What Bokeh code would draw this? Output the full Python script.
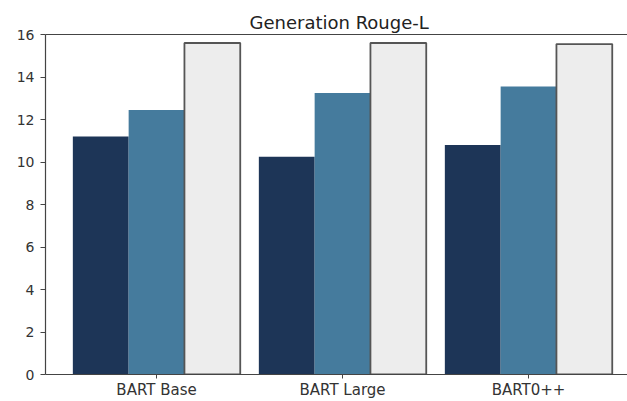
from bokeh.plotting import figure
from bokeh.models import ColumnDataSource, Range1d, FixedTicker, LinearAxis
from bokeh.transform import dodge
from bokeh.embed import file_html
from bokeh.resources import INLINE

models = ["BART Base", "BART Large", "BART0++"]
series_a = [11.2, 10.25, 10.8]
series_b = [12.45, 13.25, 13.55]
series_c = [15.6, 15.6, 15.55]
y_ticks = [0, 2, 4, 6, 8, 10, 12, 14, 16]

positions = list(range(len(models)))
src = ColumnDataSource(dict(pos=positions, a=series_a, b=series_b, c=series_c))

FONT = "DejaVu Sans"
p = figure(width=627, height=401, output_backend="svg", toolbar_location=None,
           x_range=Range1d(-0.597, 2.532), y_range=Range1d(0, 16),
           min_border_left=45, min_border_right=0, min_border_top=34, min_border_bottom=27,
           title="Generation Rouge-L")
p.outline_line_color = None
p.xgrid.visible = False
p.ygrid.visible = False
p.background_fill_color = "white"

p.title.align = "left"
p.title.offset = 204
p.title.text_font = FONT
p.title.text_font_size = "18px"
p.title.text_font_style = "normal"
p.title.text_color = "#222222"
p.title.standoff = 4

w = 0.3
p.vbar(x=dodge("pos", -w, range=None), top="a", width=w, source=src,
       fill_color="#1d3557", line_color=None)
p.vbar(x=dodge("pos", 0.0, range=None), top="b", width=w, source=src,
       fill_color="#457b9d", line_color=None)
p.vbar(x=dodge("pos", w, range=None), top="c", width=w, source=src,
       fill_color="#ededed", line_color="#555555", line_width=1.8)

for ax in (p.xaxis[0], p.yaxis[0]):
    ax.axis_line_color = "#444444"
    ax.axis_line_width = 1.2
    ax.major_tick_line_color = "#444444"
    ax.major_tick_out = 5
    ax.major_tick_in = 0
    ax.minor_tick_line_color = None
    ax.major_label_text_font = FONT
    ax.major_label_text_color = "#333333"

p.yaxis[0].ticker = FixedTicker(ticks=y_ticks)
p.yaxis[0].major_label_text_font_size = "14px"
p.yaxis[0].major_label_standoff = 6
p.xaxis[0].ticker = FixedTicker(ticks=positions)
p.xaxis[0].major_label_overrides = {i: m for i, m in enumerate(models)}
p.xaxis[0].major_label_text_font_size = "15px"
p.xaxis[0].major_tick_out = 4
p.xaxis[0].major_label_standoff = 2

top = LinearAxis(ticker=FixedTicker(ticks=[]), major_label_text_font_size="0px",
                 axis_line_color="#444444", axis_line_width=1.2,
                 major_tick_line_color=None, minor_tick_line_color=None)
p.add_layout(top, "above")

open("out.html", "w").write(file_html(p, INLINE))
